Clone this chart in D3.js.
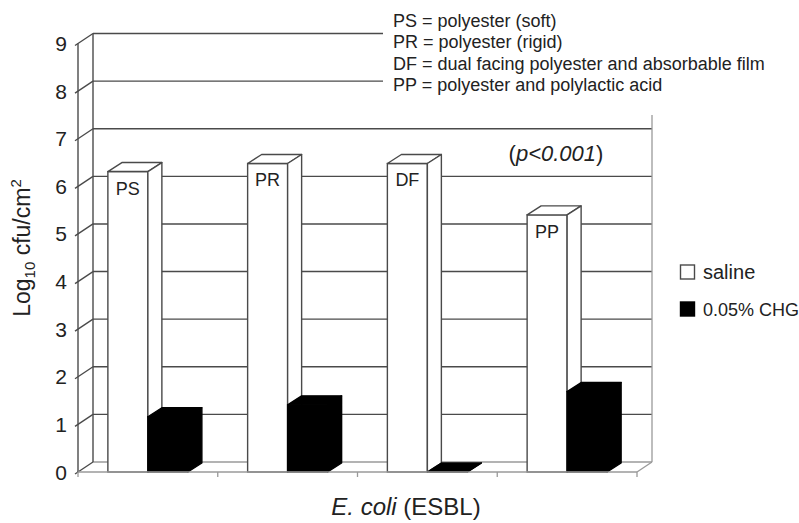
<!DOCTYPE html>
<html>
<head>
<meta charset="utf-8">
<script src="https://cdn.jsdelivr.net/npm/d3@7"></script>
<style>
  html, body { margin: 0; padding: 0; background: #fff; }
  svg { display: block; font-family: "Liberation Sans", Arial, sans-serif; }
</style>
</head>
<body>
<svg id="chart" width="799" height="523"></svg>
<script>
// ---- data ----
const categories = ["PS", "PR", "DF", "PP"];
const seriesNames = ["saline", "0.05% CHG"];
const salineValues = [6.31, 6.48, 6.48, 5.40];
const chgValues = [1.16, 1.41, 0, 1.69];
const yTicks = [0, 1, 2, 3, 4, 5, 6, 7, 8, 9];
const noteLines = [
  "PS = polyester (soft)",
  "PR = polyester (rigid)",
  "DF = dual facing polyester and absorbable film",
  "PP = polyester and polylactic acid"
];

(function () {
const svg = d3.select("#chart");
const W = 799, H = 523;

// geometry
const pL = 78, pR = 637, pB = 472, pT = 43.5;
const wallDx = 15, wallDy = -10;   // depth of chart walls
const barDx = 14, barDy = -9;      // depth of bars
const gridDark = "#4a4a4a", gridLight = "#9a9a9a";

const y = d3.scaleLinear().domain([0, 9]).range([pB, pT]);
const x0 = d3.scaleBand().domain(categories).range([pL, pR]);
const groupW = 80;
const x1 = d3.scaleBand().domain(seriesNames).range([0, groupW]);
const groupOff = (x0.bandwidth() - groupW) / 2;

const g = svg.append("g");

// back wall gridlines + left wall ticks
yTicks.forEach(t => {
  g.append("line")
    .attr("x1", pL + wallDx).attr("x2", pR + wallDx)
    .attr("y1", y(t) + wallDy).attr("y2", y(t) + wallDy)
    .attr("stroke", t === 0 ? gridLight : gridDark).attr("stroke-width", 1.4);
  g.append("line")
    .attr("x1", pL - 3).attr("x2", pL + wallDx)
    .attr("y1", y(t) + 2).attr("y2", y(t) + wallDy)
    .attr("stroke", gridDark).attr("stroke-width", 1.4);
});
g.append("line")
  .attr("x1", pL + wallDx).attr("x2", pL + wallDx)
  .attr("y1", y(0) + wallDy).attr("y2", y(9) + wallDy)
  .attr("stroke", gridDark).attr("stroke-width", 1.4);
g.append("line")
  .attr("x1", pR + wallDx).attr("x2", pR + wallDx)
  .attr("y1", y(0) + wallDy).attr("y2", y(9) + wallDy)
  .attr("stroke", gridLight).attr("stroke-width", 1.3);
g.append("line")
  .attr("x1", pR).attr("x2", pR + wallDx)
  .attr("y1", y(0)).attr("y2", y(0) + wallDy)
  .attr("stroke", gridLight).attr("stroke-width", 1.3);
g.append("line")
  .attr("x1", pL).attr("x2", pL)
  .attr("y1", y(0)).attr("y2", y(9))
  .attr("stroke", gridDark).attr("stroke-width", 1.4);

function bar3d(sel, x, w, v, fill, stroke) {
  const yt = y(v), yb = y(0);
  const gb = sel.append("g");
  gb.append("rect")
    .attr("x", x).attr("y", yt).attr("width", w).attr("height", yb - yt)
    .attr("fill", fill).attr("stroke", stroke).attr("stroke-width", 1.4);
  gb.append("polygon")
    .attr("points", [[x, yt], [x + barDx, yt + barDy], [x + w + barDx, yt + barDy], [x + w, yt]].map(p => p.join(",")).join(" "))
    .attr("fill", fill).attr("stroke", stroke).attr("stroke-width", 1.4).attr("stroke-linejoin", "round");
  gb.append("polygon")
    .attr("points", [[x + w, yt], [x + w + barDx, yt + barDy], [x + w + barDx, yb + barDy], [x + w, yb]].map(p => p.join(",")).join(" "))
    .attr("fill", fill).attr("stroke", stroke).attr("stroke-width", 1.4).attr("stroke-linejoin", "round");
}

categories.forEach((c, i) => {
  const bx = x0(c) + groupOff;
  bar3d(g, bx + x1("saline"), x1.bandwidth(), salineValues[i], "#fff", "#4a4a4a");
  bar3d(g, bx + x1("0.05% CHG"), x1.bandwidth(), chgValues[i], "#000", "#000");
  g.append("text")
    .attr("x", bx + x1("saline") + x1.bandwidth() / 2)
    .attr("y", y(salineValues[i]) + 23)
    .attr("text-anchor", "middle")
    .attr("font-size", 18).attr("fill", "#222")
    .text(c);
});

g.append("line")
  .attr("x1", pL).attr("x2", pR)
  .attr("y1", y(0)).attr("y2", y(0))
  .attr("stroke", gridLight).attr("stroke-width", 1.3);
const catEdges = categories.map(c => x0(c)).concat([pR]);
catEdges.forEach(xe => {
  g.append("line")
    .attr("x1", xe).attr("x2", xe)
    .attr("y1", y(0)).attr("y2", y(0) + 5)
    .attr("stroke", gridLight).attr("stroke-width", 1.3);
});

yTicks.forEach(t => {
  g.append("text")
    .attr("x", 67).attr("y", y(t) + 7.5)
    .attr("text-anchor", "end")
    .attr("font-size", 21).attr("fill", "#222")
    .text(t);
});

const yt = svg.append("text")
  .attr("transform", "translate(30,248) rotate(-90)")
  .attr("text-anchor", "middle")
  .attr("font-size", 23).attr("fill", "#222");
yt.append("tspan").text("Log");
yt.append("tspan").attr("font-size", 15).attr("dy", 5).text("10");
yt.append("tspan").attr("dy", -5).text(" cfu/cm");
yt.append("tspan").attr("font-size", 15).attr("dy", -9).text("2");

const xt = svg.append("text")
  .attr("x", 406).attr("y", 515)
  .attr("text-anchor", "middle")
  .attr("font-size", 24).attr("fill", "#222");
xt.append("tspan").attr("font-style", "italic").text("E. coli");
xt.append("tspan").text(" (ESBL)");

svg.append("rect")
  .attr("x", 383).attr("y", 0).attr("width", W - 383).attr("height", 115)
  .attr("fill", "#fff");
noteLines.forEach((s, i) => {
  svg.append("text")
    .attr("x", 393).attr("y", 26.5 + i * 21.6)
    .attr("font-size", 18).attr("fill", "#222")
    .text(s);
});

const pt = svg.append("text")
  .attr("x", 556).attr("y", 161)
  .attr("text-anchor", "middle")
  .attr("font-size", 22).attr("fill", "#222");
pt.append("tspan").text("(");
pt.append("tspan").attr("font-style", "italic").text("p<0.001");
pt.append("tspan").text(")");

const legendFills = ["#fff", "#000"];
const legendY = [265, 302];
seriesNames.forEach((s, i) => {
  svg.append("rect")
    .attr("x", 680.5).attr("y", legendY[i]).attr("width", 14).attr("height", 14)
    .attr("fill", legendFills[i]).attr("stroke", i === 0 ? "#4a4a4a" : "#000").attr("stroke-width", 1.4);
  svg.append("text")
    .attr("x", 703).attr("y", legendY[i] + 13.5)
    .attr("font-size", i === 0 ? 20 : 18).attr("fill", "#222")
    .text(s);
});
})();
</script>
</body>
</html>
